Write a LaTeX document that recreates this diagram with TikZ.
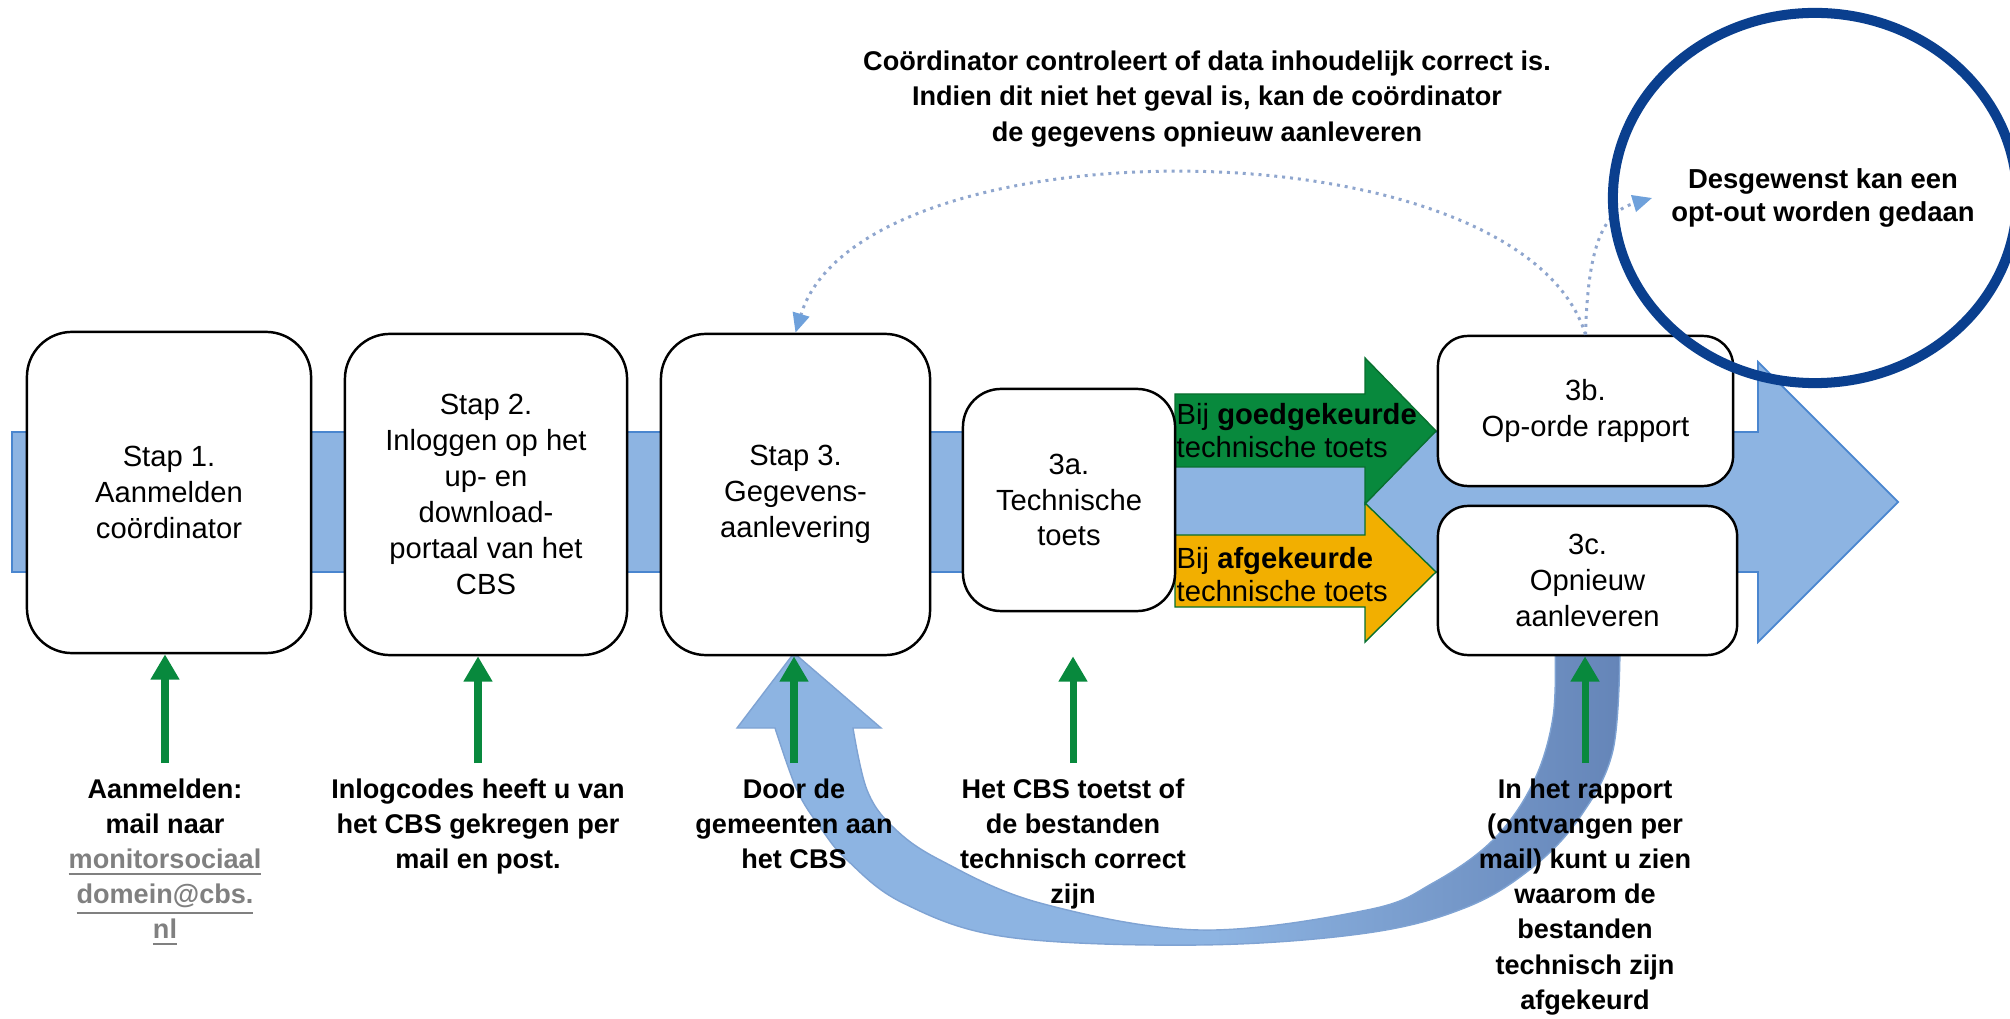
\documentclass[tikz,border=0pt]{standalone}
\usepackage{fontspec}
\setmainfont{Liberation Sans}
\usetikzlibrary{arrows.meta,calc}
\definecolor{bandfill}{HTML}{8DB4E2}
\definecolor{bandline}{HTML}{4A86CF}
\definecolor{cblue}{HTML}{8DB4E2}
\definecolor{cdark}{HTML}{6585B8}
\definecolor{curvline}{HTML}{7FA3D3}
\definecolor{cgreen}{HTML}{08893D}
\definecolor{cgreenline}{HTML}{08702F}
\definecolor{corange}{HTML}{F2AF00}
\definecolor{navy}{HTML}{0A3F8E}
\definecolor{dotc}{HTML}{8FA6CE}
\definecolor{tipc}{HTML}{6FA1DB}
\definecolor{mailc}{HTML}{808080}
\pgfdeclarehorizontalshading{curvshade}{100bp}{color(0bp)=(cblue); color(25bp)=(cblue); color(52bp)=(cblue); color(75bp)=(cdark); color(100bp)=(cdark)}
\newcommand\mailtext[1]{\textcolor{mailc}{\underline{#1}}}
\tikzset{
  stepbox/.style={draw=black, line width=0.7pt, fill=white, align=center, inner sep=0pt,
    font=\fontsize{8.3}{10.2}\selectfont},
  biglab/.style={anchor=north, align=center, inner sep=0pt,
    font=\bfseries\fontsize{7.7}{10}\selectfont},
  arrowtext/.style={anchor=west, align=left, inner sep=0pt,
    font=\fontsize{8.3}{9.4}\selectfont},
  garrow/.style={draw=cgreen, line width=2pt, -{Triangle[length=7.2pt,width=7.8pt]}},
  dotarrow/.style={draw=dotc, line width=0.85pt, dash pattern=on 0.85pt off 1.4pt,
    -{Triangle[length=5.5pt,width=4.8pt,color=tipc]}},
}
\begin{document}
\begin{tikzpicture}[x=0.01cm, y=-0.01cm]
\useasboundingbox (0,0) rectangle (2010,1019);
\clip (0,0) rectangle (2010,1019);

% main band arrow
\filldraw[fill=bandfill, draw=bandline, line width=0.5pt]
  (12,432) -- (1758,432) -- (1758,362) -- (1898,502) -- (1758,642) -- (1758,572) -- (12,572) -- cycle;

% green and orange block arrows
\filldraw[fill=cgreen, draw=cgreenline, line width=0.4pt]
  (1175,394) -- (1365,394) -- (1365,358) -- (1436,431) -- (1365,504) -- (1365,467) -- (1175,467) -- cycle;
\filldraw[fill=corange, draw=cgreenline, line width=0.4pt]
  (1175,535) -- (1365,535) -- (1365,503) -- (1436,572) -- (1365,642) -- (1365,607) -- (1175,607) -- cycle;

% curved return arrow
\shadedraw[shading=curvshade, draw=curvline, line width=0.4pt]
  (794,653) -- (881,728) -- (853,728)
  -- plot[smooth, tension=0.6] coordinates {(853,728) (867,790) (893,827) (940,860) (1040,903) (1200,930) (1367,910) (1433,883) (1493,840) (1533,783) (1553,717) (1555,645)}
  -- (1620,645)
  -- plot[smooth, tension=0.6] coordinates {(1620,645) (1613,750) (1580,817) (1533,867) (1467,907) (1367,933) (1200,945) (1007,937) (903,903) (847,860) (820,827) (797,790) (775,728)}
  -- (737,728) -- cycle;

% step boxes
\node[stepbox, rounded corners=0.45cm, minimum width=2.84cm, minimum height=3.21cm] (b1) at (169,492.5)
  {Stap 1.\\Aanmelden\\coördinator};
\node[stepbox, rounded corners=0.45cm, minimum width=2.82cm, minimum height=3.21cm] (b2) at (486,494.5)
  {Stap 2.\\Inloggen op het\\up- en\\download-\\portaal van het\\CBS};
\node[stepbox, rounded corners=0.45cm, minimum width=2.69cm, minimum height=3.21cm] (b3) at (795.5,494.5)
  {Stap 3.\\Gegevens-\\aanlevering};
\node[stepbox, rounded corners=0.38cm, minimum width=2.12cm, minimum height=2.22cm] (b3a) at (1069,500)
  {3a.\\Technische\\toets};
\node[stepbox, rounded corners=0.30cm, minimum width=2.95cm, minimum height=1.50cm] (b3b) at (1585.5,411)
  {3b.\\Op-orde rapport};
\node[stepbox, rounded corners=0.30cm, minimum width=2.99cm, minimum height=1.49cm] (b3c) at (1587.5,580.5)
  {3c.\\Opnieuw\\aanleveren};

% texts in block arrows
\node[arrowtext] (tgood) at (1176,431) {Bij \textbf{goedgekeurde}\\technische toets};
\node[arrowtext] (tbad) at (1176,575) {Bij \textbf{afgekeurde}\\technische toets};

% bottom labels
\node[biglab] (l1) at (165,778) {Aanmelden:\\mail naar\\\mailtext{monitorsociaal}\\\mailtext{domein@cbs.}\\\mailtext{nl}};
\node[biglab] (l2) at (478,778) {Inlogcodes heeft u van\\het CBS gekregen per\\mail en post.};
\node[biglab] (l3) at (794,778) {Door de\\gemeenten aan\\het CBS};
\node[biglab] (l4) at (1073,778) {Het CBS toetst of\\de bestanden\\technisch correct\\zijn};
\node[biglab] (l5) at (1585,778) {In het rapport\\(ontvangen per\\mail) kunt u zien\\waarom de\\bestanden\\technisch zijn\\afgekeurd};

% green up arrows
\coordinate (g1) at ($(l1.north)+(0,-15)$);
\coordinate (g2) at ($(l2.north)+(0,-15)$);
\coordinate (g3) at ($(l3.north)+(0,-15)$);
\coordinate (g4) at ($(l4.north)+(0,-15)$);
\coordinate (g5) at ($(l5.north)+(0,-15)$);
\draw[garrow] (g1) -- (g1 |- b1.south);
\draw[garrow] (g2) -- (g2 |- b2.south);
\draw[garrow] (g3) -- (g3 |- b3.south);
\draw[garrow] (g4) -- (g4 |- b3.south);
\draw[garrow] (g5) -- (g5 |- b3c.south);

% dotted feedback connectors
\coordinate (optend) at (1652,198);
\draw[dotarrow] (b3b.north) .. controls (1520,120) and (860,120) .. (b3.north);
\draw[dotarrow] (b3b.north) .. controls (1588,240) and (1605,212) .. (optend);

% top explanation
\node[align=center, inner sep=0pt, font=\bfseries\fontsize{7.7}{10.1}\selectfont] (topnote) at (1207,99)
  {Coördinator controleert of data inhoudelijk correct is.\\Indien dit niet het geval is, kan de coördinator\\de gegevens opnieuw aanleveren};

% opt-out ellipse
\draw[navy, line width=2.85pt] (1815,198) ellipse [x radius=2.02cm, y radius=1.85cm];
\node[align=center, inner sep=0pt, font=\bfseries\fontsize{7.8}{9.4}\selectfont] (optout) at (1823,198)
  {Desgewenst kan een\\opt-out worden gedaan};
\end{tikzpicture}
\end{document}
